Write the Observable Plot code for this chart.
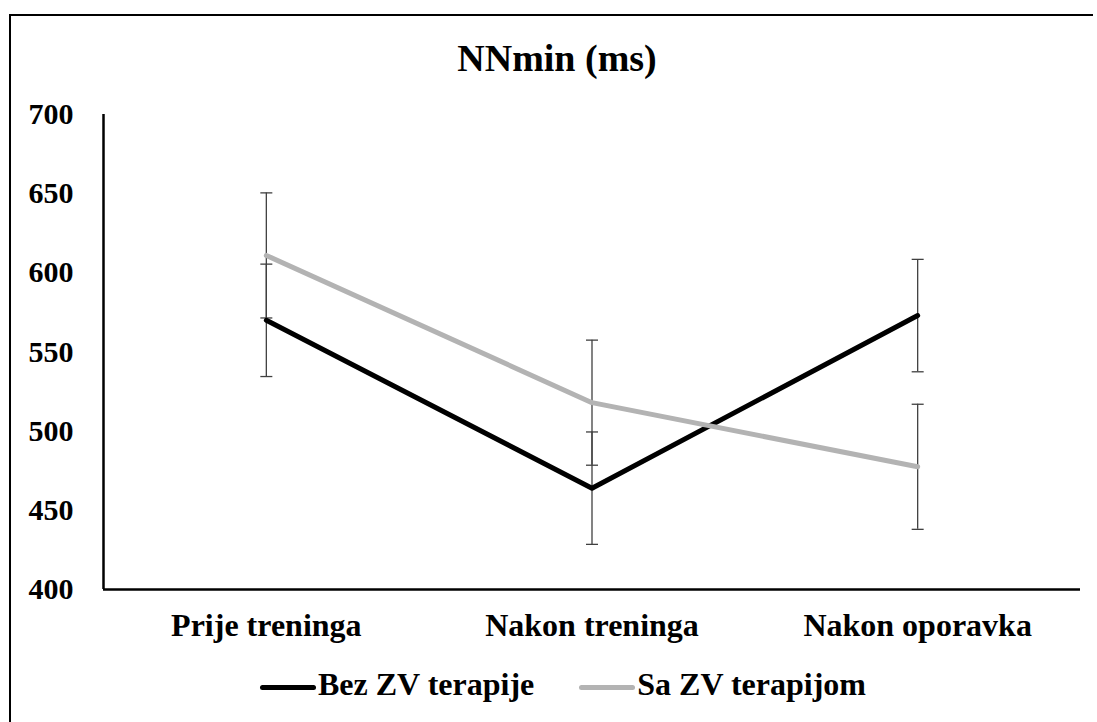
<!DOCTYPE html>
<html>
<head>
<meta charset="utf-8">
<script src="https://cdn.jsdelivr.net/npm/d3@7"></script>
<script src="https://cdn.jsdelivr.net/npm/@observablehq/plot@0.6"></script>
<style>
  html, body { margin: 0; padding: 0; background: #fff; overflow: hidden; }
  #wrap { position: relative; width: 1097px; height: 722px; overflow: hidden; background: #fff;
          font-family: "Liberation Serif", "Times New Roman", serif; font-weight: bold; color: #000; }
  #chart { position: absolute; left: 0; top: 0; }
  #chart svg text { font-family: "Liberation Serif", "Times New Roman", serif !important; font-weight: bold !important; }
  #borderTop { position: absolute; left: 9px; top: 14px; width: 1084px; height: 2px; background: #000; }
  #borderLeft { position: absolute; left: 9px; top: 14px; width: 2px; height: 708px; background: #000; }
  #title { position: absolute; left: 0; width: 1114px; top: 39px; text-align: center;
           font-size: 38px; line-height: 38px; white-space: nowrap; }
  #legend { position: absolute; left: 260px; top: 668px; display: flex; align-items: flex-start;
            font-size: 32px; line-height: 32px; white-space: nowrap; }
  .item { display: flex; align-items: flex-start; }
  .swatch { width: 56px; height: 5px; border-radius: 3px; margin-top: 16.5px; margin-right: 2px; }
</style>
</head>
<body>
<div id="wrap">
  <div id="chart"></div>
  <div id="borderTop"></div>
  <div id="borderLeft"></div>
  <div id="title"></div>
  <div id="legend"></div>
</div>
<script>
const titleText = "NNmin (ms)";
const categories = ["Prije treninga", "Nakon treninga", "Nakon oporavka"];
const seriesNames = ["Bez ZV terapije", "Sa ZV terapijom"];
const bezValues = [570, 464, 573];
const saValues = [611, 518, 477.5];
const bezErrors = [35.5, 35.5, 35.5];
const saErrors = [39.5, 39.5, 39.5];
const yTicks = [400, 450, 500, 550, 600, 650, 700];
const seriesColors = ["#000000", "#b3b3b3"];

const table = [];
[[bezValues, bezErrors], [saValues, saErrors]].forEach(([vals, errs], s) => {
  vals.forEach((v, i) => table.push({i, category: categories[i], series: seriesNames[s], value: v, err: errs[i]}));
});

const capSymbol = {
  draw(context, size) {
    const w = Math.sqrt(size / Math.PI);
    context.moveTo(-w, 0);
    context.lineTo(w, 0);
  }
};

const font = "'Liberation Serif', 'Times New Roman', serif";
const errColor = "#404040";

const plot = Plot.plot({
  width: 1097,
  height: 722,
  marginLeft: 103,
  marginRight: 17,
  marginTop: 114,
  marginBottom: 133,
  style: {background: "transparent", fontFamily: font, fontWeight: "bold", color: "#000"},
  x: {domain: [-0.5, categories.length - 0.5]},
  y: {domain: [yTicks[0], yTicks[yTicks.length - 1]]},
  color: {domain: seriesNames, range: seriesColors},
  marks: [
    Plot.ruleX(table, {x: "i", y1: d => d.value - d.err, y2: d => d.value + d.err, stroke: errColor, strokeWidth: 1.3}),
    Plot.dot(table, {x: "i", y: d => d.value - d.err, symbol: capSymbol, r: 6, stroke: errColor, strokeWidth: 1.3, fill: "none"}),
    Plot.dot(table, {x: "i", y: d => d.value + d.err, symbol: capSymbol, r: 6, stroke: errColor, strokeWidth: 1.3, fill: "none"}),
    Plot.line(table, {x: "i", y: "value", z: "series", stroke: "series", strokeWidth: 5,
                      strokeLinecap: "round", strokeLinejoin: "round"}),
    Plot.ruleY([yTicks[0]], {stroke: "#000", strokeWidth: 2.5}),
    Plot.ruleX([-0.5], {stroke: "#000", strokeWidth: 2.5}),
    Plot.axisX({ticks: categories.map((c, i) => i), tickFormat: i => categories[i], tickSize: 0, tickPadding: 24,
                fontSize: 32, fontWeight: "bold", label: null}),
    Plot.axisY({ticks: yTicks, tickSize: 0, tickPadding: 30, fontSize: 30, fontWeight: "bold", label: null})
  ]
});
document.getElementById("chart").appendChild(plot);

document.getElementById("title").textContent = titleText;
const legend = document.getElementById("legend");
seriesNames.forEach((name, s) => {
  const item = document.createElement("div");
  item.className = "item";
  if (s > 0) item.style.marginLeft = "45px";
  const sw = document.createElement("div");
  sw.className = "swatch";
  sw.style.background = seriesColors[s];
  const label = document.createElement("span");
  label.textContent = name;
  item.appendChild(sw);
  item.appendChild(label);
  legend.appendChild(item);
});
</script>
</body>
</html>
